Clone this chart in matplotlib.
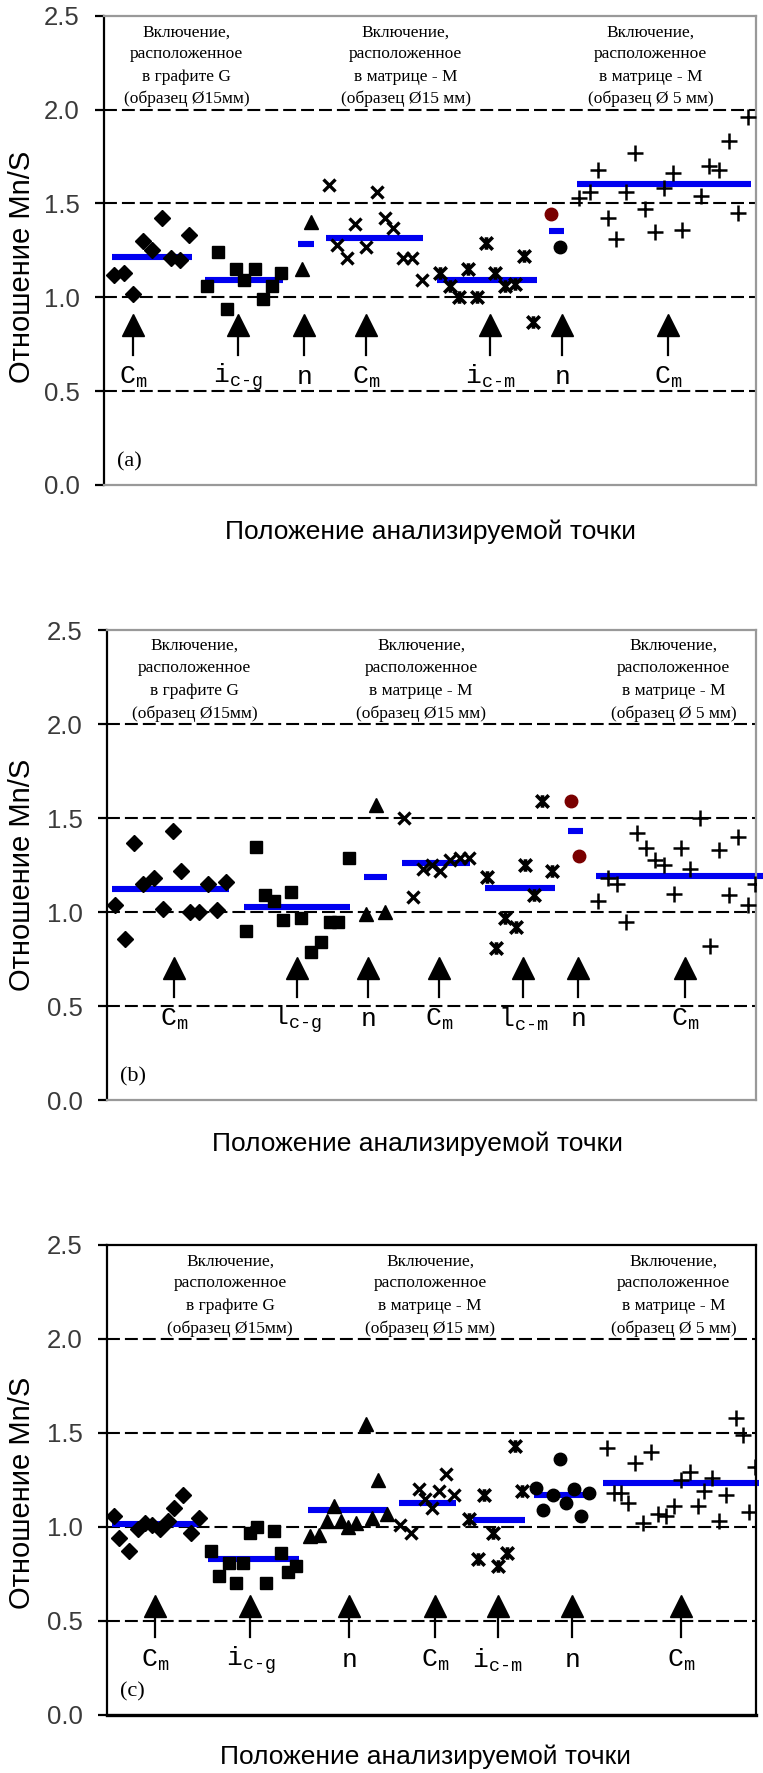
import numpy as np
import matplotlib
matplotlib.use('Agg')
import matplotlib.pyplot as plt
from matplotlib.path import Path
from matplotlib import font_manager

# ---- panel (a) ----
a_cm1_x = [1.6, 3.0, 4.4, 6.0, 7.4, 8.9, 10.2, 11.7, 13.1]
a_cm1_y = [1.12, 1.13, 1.02, 1.30, 1.25, 1.42, 1.21, 1.20, 1.33]
a_icg_x = [15.8, 17.5, 18.8, 20.2, 21.5, 23.1, 24.4, 25.8, 27.1]
a_icg_y = [1.06, 1.24, 0.94, 1.15, 1.09, 1.15, 0.99, 1.06, 1.13]
a_n1_x = [30.3, 31.7]
a_n1_y = [1.15, 1.40]
a_cm2_x = [34.5, 35.8, 37.2, 38.5, 40.2, 41.8, 43.1, 44.4, 45.9, 47.2, 48.7]
a_cm2_y = [1.60, 1.28, 1.21, 1.39, 1.27, 1.56, 1.42, 1.37, 1.21, 1.21, 1.09]
a_icm_x = [51.5, 53.0, 54.4, 55.9, 57.2, 58.6, 59.9, 61.5, 63.0, 64.4, 65.8]
a_icm_y = [1.13, 1.06, 1.00, 1.15, 1.00, 1.29, 1.13, 1.06, 1.07, 1.22, 0.87]
a_n2_red_x = [68.6]
a_n2_red_y = [1.445]
a_n2_x = [69.9]
a_n2_y = [1.27]
a_cm3_x = [72.9, 74.6, 75.8, 77.3, 78.6, 80.1, 81.4, 82.9, 84.5, 85.9, 87.3, 88.7,
           91.5, 92.8, 94.4, 95.9, 97.3, 98.8]
a_cm3_y = [1.53, 1.56, 1.68, 1.42, 1.31, 1.56, 1.77, 1.47, 1.35, 1.58, 1.66, 1.36,
           1.54, 1.70, 1.68, 1.83, 1.45, 1.96]
a_mean_y = [1.214, 1.094, 1.286, 1.317, 1.094, 1.353, 1.601]
a_mean_x0 = [1.2, 15.5, 29.7, 34.0, 51.1, 68.3, 72.5]
a_mean_x1 = [13.5, 27.5, 32.2, 48.9, 66.4, 70.5, 99.2]
a_arrow_x = [4.5, 20.6, 30.7, 40.2, 59.2, 70.2, 86.5]

# ---- panel (b) ----
b_cm1_x = [1.3, 2.8, 4.1, 5.6, 7.3, 8.6, 10.1, 11.4, 12.8, 14.2, 15.6, 17.0, 18.3]
b_cm1_y = [1.04, 0.86, 1.37, 1.15, 1.18, 1.02, 1.43, 1.22, 1.00, 1.00, 1.15, 1.01, 1.16]
b_icg_x = [21.4, 22.9, 24.4, 25.7, 27.1, 28.4, 29.9, 31.4, 33.0, 34.4, 35.6, 37.3]
b_icg_y = [0.90, 1.35, 1.09, 1.06, 0.96, 1.11, 0.97, 0.79, 0.84, 0.95, 0.95, 1.29]
b_n1_x = [39.9, 41.5, 42.8]
b_n1_y = [0.99, 1.57, 1.00]
b_cm2_x = [45.7, 47.2, 48.7, 50.0, 51.3, 52.9, 54.4, 55.8]
b_cm2_y = [1.50, 1.08, 1.23, 1.25, 1.22, 1.28, 1.29, 1.29]
b_icm_x = [58.6, 60.0, 61.3, 63.0, 64.4, 65.8, 67.1, 68.5]
b_icm_y = [1.19, 0.81, 0.97, 0.92, 1.25, 1.09, 1.59, 1.22]
b_n2_red_x = [71.5, 72.8]
b_n2_red_y = [1.59, 1.30]
b_n2_x = []
b_n2_y = []
b_cm3_x = [75.7, 77.2, 78.6, 80.0, 81.7, 83.0, 84.5, 85.8, 87.3, 88.5, 89.9, 91.4,
           92.9, 94.3, 95.8, 97.2, 98.7, 99.9]
b_cm3_y = [1.06, 1.18, 1.15, 0.95, 1.42, 1.34, 1.28, 1.25, 1.10, 1.34, 1.23, 1.50,
           0.82, 1.33, 1.09, 1.40, 1.04, 1.15]
b_mean_y = [1.124, 1.027, 1.186, 1.261, 1.128, 1.434, 1.193]
b_mean_x0 = [0.8, 21.1, 39.6, 45.5, 58.2, 71.1, 75.4]
b_mean_x1 = [18.8, 37.4, 43.1, 56.0, 69.0, 73.3, 101.8]
b_arrow_x = [10.4, 29.2, 40.2, 51.2, 64.1, 72.6, 89.1]

# ---- panel (c) ----
c_cm1_x = [1.1, 1.9, 3.4, 4.7, 5.9, 7.0, 8.2, 9.4, 10.3, 11.7, 12.9, 14.1]
c_cm1_y = [1.06, 0.94, 0.87, 0.99, 1.02, 1.01, 0.99, 1.03, 1.10, 1.17, 0.97, 1.05]
c_icg_x = [16.0, 17.3, 18.8, 19.8, 20.9, 22.0, 23.1, 24.5, 25.7, 26.8, 27.9, 29.1]
c_icg_y = [0.87, 0.74, 0.81, 0.70, 0.81, 0.97, 1.00, 0.70, 0.98, 0.86, 0.76, 0.79]
c_n1_x = [31.3, 32.7, 33.9, 34.9, 36.1, 37.2, 38.4, 39.9, 40.8, 41.8, 43.1]
c_n1_y = [0.95, 0.96, 1.03, 1.11, 1.03, 1.00, 1.02, 1.55, 1.05, 1.25, 1.07]
c_cm2_x = [45.2, 46.8, 48.0, 49.0, 50.0, 51.2, 52.3, 53.5]
c_cm2_y = [1.01, 0.97, 1.20, 1.15, 1.10, 1.19, 1.28, 1.17]
c_icm_x = [55.8, 57.1, 58.1, 59.4, 60.3, 61.7, 62.9, 64.0]
c_icm_y = [1.04, 0.83, 1.17, 0.97, 0.79, 0.86, 1.43, 1.19]
c_n2_red_x = []
c_n2_red_y = []
c_n2_x = [66.1, 67.2, 68.7, 69.8, 70.8, 72.0, 73.1, 74.2]
c_n2_y = [1.21, 1.09, 1.17, 1.36, 1.13, 1.20, 1.06, 1.18]
c_cm3_x = [77.0, 78.1, 79.2, 80.3, 81.4, 82.6, 83.8, 84.9, 86.1, 87.3, 88.4, 89.8,
           91.0, 92.0, 93.2, 94.3, 95.4, 96.9, 98.0, 98.9, 99.9]
c_cm3_y = [1.42, 1.18, 1.18, 1.13, 1.34, 1.02, 1.40, 1.07, 1.06, 1.11, 1.25, 1.29,
           1.11, 1.19, 1.26, 1.03, 1.17, 1.58, 1.49, 1.08, 1.32]
c_mean_y = [1.014, 0.828, 1.090, 1.126, 1.037, 1.170, 1.232]
c_mean_x0 = [0.8, 15.6, 31.0, 45.0, 56.4, 65.8, 76.4]
c_mean_x1 = [14.2, 29.6, 43.3, 53.8, 64.4, 75.0, 100.5]
c_arrow_x = [7.4, 22.1, 37.3, 50.5, 60.2, 71.6, 88.5]

# ---- texts ----
yticks = [0.0, 0.5, 1.0, 1.5, 2.0, 2.5]
ytick_labels = ['0.0', '0.5', '1.0', '1.5', '2.0', '2.5']
grid_levels = [0.5, 1.0, 1.5, 2.0]
labels_ac = [r'$\mathrm{C}_{\mathrm{m}}$', r'$\mathrm{i}_{\mathrm{c\text{-}g}}$', r'$\mathrm{n}$',
             r'$\mathrm{C}_{\mathrm{m}}$', r'$\mathrm{i}_{\mathrm{c\text{-}m}}$', r'$\mathrm{n}$',
             r'$\mathrm{C}_{\mathrm{m}}$']
labels_b = [r'$\mathrm{C}_{\mathrm{m}}$', r'$\mathrm{l}_{\mathrm{c\text{-}g}}$', r'$\mathrm{n}$',
            r'$\mathrm{C}_{\mathrm{m}}$', r'$\mathrm{l}_{\mathrm{c\text{-}m}}$', r'$\mathrm{n}$',
            r'$\mathrm{C}_{\mathrm{m}}$']
block_texts = [
    ['Включение,', 'расположенное', 'в графите G', '(образец Ø15мм)'],
    ['Включение,', 'расположенное', 'в матрице - M', '(образец Ø15 мм)'],
    ['Включение,', 'расположенное', 'в матрице - M', '(образец Ø 5 мм)'],
]
xlabel = 'Положение анализируемой точки'
ylabel = 'Отношение Mn/S'

names = {f.name for f in font_manager.fontManager.ttflist}
tick_font = 'Liberation Sans Narrow' if 'Liberation Sans Narrow' in names else 'Liberation Sans'
tick_size = 20 if tick_font == 'Liberation Sans Narrow' else 18.5
plt.rcParams['mathtext.fontset'] = 'custom'
plt.rcParams['mathtext.rm'] = 'Liberation Mono'
plt.rcParams['mathtext.it'] = 'Liberation Mono'

# star marker: X with a vertical bar
star = Path([(-1, -1), (1, 1), (-1, 1), (1, -1), (0, -1), (0, 1)],
            [Path.MOVETO, Path.LINETO] * 3)

BLUE = '#0000f0'
RED = '#7a0000'

fig = plt.figure(figsize=(7.63, 17.73), dpi=100)

panels = [
    dict(tag='(a)', rect=[104 / 763, 1 - 485 / 1773, 652 / 763, 469.3 / 1773], frame='#999999',
         cm1=(a_cm1_x, a_cm1_y), icg=(a_icg_x, a_icg_y), n1=(a_n1_x, a_n1_y),
         cm2=(a_cm2_x, a_cm2_y), icm=(a_icm_x, a_icm_y), n2r=(a_n2_red_x, a_n2_red_y),
         n2=(a_n2_x, a_n2_y), cm3=(a_cm3_x, a_cm3_y),
         mean=(a_mean_y, a_mean_x0, a_mean_x1), arrows=a_arrow_x, labels=labels_ac,
         arrow_y=(0.691, 0.798, 0.904), label_y=0.576, blocks=[12.7, 46.3, 83.8],
         block_y=[2.411, 2.296, 2.176, 2.057], xlab=(0.501, -0.0995),
         ylab=(-0.104, 0.465)),
    dict(tag='(b)', rect=[107 / 763, 1 - 1100.3 / 1773, 649 / 763, 470 / 1773], frame='#999999',
         cm1=(b_cm1_x, b_cm1_y), icg=(b_icg_x, b_icg_y), n1=(b_n1_x, b_n1_y),
         cm2=(b_cm2_x, b_cm2_y), icm=(b_icm_x, b_icm_y), n2r=(b_n2_red_x, b_n2_red_y),
         n2=(b_n2_x, b_n2_y), cm3=(b_cm3_x, b_cm3_y),
         mean=(b_mean_y, b_mean_x0, b_mean_x1), arrows=b_arrow_x, labels=labels_b,
         arrow_y=(0.548, 0.649, 0.755), label_y=0.432, blocks=[13.5, 48.4, 87.3],
         block_y=[2.417, 2.298, 2.179, 2.057], xlab=(0.478, -0.0915),
         ylab=(-0.109, 0.479)),
    dict(tag='(c)', rect=[107 / 763, 1 - 1715 / 1773, 649 / 763, 470 / 1773], frame='black',
         cm1=(c_cm1_x, c_cm1_y), icg=(c_icg_x, c_icg_y), n1=(c_n1_x, c_n1_y),
         cm2=(c_cm2_x, c_cm2_y), icm=(c_icm_x, c_icm_y), n2r=(c_n2_red_x, c_n2_red_y),
         n2=(c_n2_x, c_n2_y), cm3=(c_cm3_x, c_cm3_y),
         mean=(c_mean_y, c_mean_x0, c_mean_x1), arrows=c_arrow_x, labels=labels_ac,
         arrow_y=(0.417, 0.523, 0.633), label_y=0.293, blocks=[19.0, 49.8, 87.3],
         block_y=[2.411, 2.296, 2.176, 2.057], xlab=(0.491, -0.088),
         ylab=(-0.109, 0.472)),
]

for p in panels:
    ax = fig.add_axes(p['rect'])
    ax.set_xlim(0, 100)
    ax.set_ylim(0, 2.5)

    for lvl in grid_levels:
        ax.axhline(lvl, color='black', lw=1.5, dashes=(6.2, 2.4), zorder=1)

    # means
    my, mx0, mx1 = p['mean']
    for yv, x0, x1 in zip(my, mx0, mx1):
        ax.plot([x0, x1], [yv, yv], color=BLUE, lw=4.4, solid_capstyle='butt',
                zorder=2, clip_on=False)

    ax.plot(*p['cm1'], 'D', color='black', ms=8, ls='none', zorder=3)
    ax.plot(*p['icg'], 's', color='black', ms=8, ls='none', zorder=3)
    ax.plot(*p['n1'], '^', color='black', ms=9.5, ls='none', zorder=3)
    ax.plot(*p['cm2'], 'x', color='black', ms=9, mew=2.4, ls='none', zorder=3)
    ax.plot(*p['icm'], marker=star, color='black', ms=9, mew=2.6, ls='none', zorder=3)
    ax.plot(*p['n2r'], 'o', color=RED, ms=9, ls='none', zorder=3)
    ax.plot(*p['n2'], 'o', color='black', ms=9, ls='none', zorder=3)
    ax.plot(*p['cm3'], '+', color='black', ms=12, mew=1.8, ls='none', zorder=3)

    # arrows
    y_bot, y_base, y_tip = p['arrow_y']
    for xa, lab in zip(p['arrows'], p['labels']):
        ax.plot([xa, xa], [y_bot, y_base], color='black', lw=1.6, zorder=3)
        ax.plot([xa], [(y_base + y_tip) / 2], '^', color='black', ms=16.5, zorder=3)
        ax.text(xa, p['label_y'], lab, ha='center', va='center', fontsize=19)

    # text blocks
    for xb, lines in zip(p['blocks'], block_texts):
        for yb, line in zip(p['block_y'], lines):
            ax.text(xb, yb, line, ha='center', va='center', fontsize=12.5,
                    family='Liberation Serif')

    ax.text(2.0, 0.125, p['tag'], ha='left', va='center', fontsize=16,
            family='Liberation Serif')

    ax.set_xticks([])
    ax.set_yticks(yticks)
    ax.set_yticklabels(ytick_labels, family=tick_font, fontsize=tick_size, color='#3a3a3a')
    ax.tick_params(axis='y', length=6.5, width=1.6, pad=11, color='black')

    for side in ['top', 'right', 'bottom']:
        ax.spines[side].set_color(p['frame'])
        ax.spines[side].set_linewidth(1.6)
    ax.spines['left'].set_color('black')
    ax.spines['left'].set_linewidth(1.6)
    if p['frame'] == 'black':
        ax.spines['bottom'].set_linewidth(2.4)

    ax.set_ylabel(ylabel, family='Liberation Sans', fontsize=21)
    ax.yaxis.set_label_coords(*p['ylab'])
    ax.text(p['xlab'][0], p['xlab'][1], xlabel, transform=ax.transAxes, ha='center',
            va='center', family='Liberation Sans', fontsize=19)

fig.savefig('out.png', dpi=100)
